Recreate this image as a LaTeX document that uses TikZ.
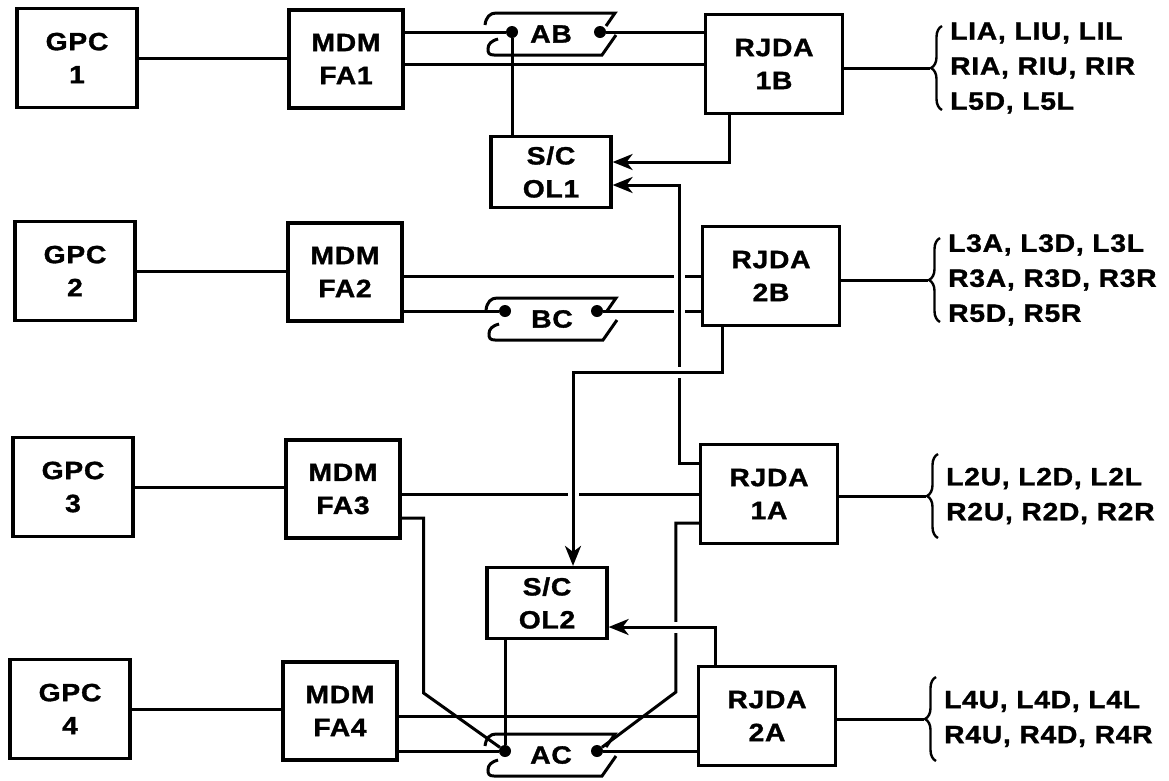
\documentclass[tikz,border=0pt]{standalone}
\usepackage{fontspec}
\newfontfamily\lblfont{Liberation Sans}[FakeStretch=1.13,LetterSpace=3,FakeBold=1.3]
\usetikzlibrary{arrows.meta,calc,decorations.pathreplacing}
\pgfdeclarelayer{fg}
\pgfsetlayers{main,fg}
\newcommand\connshape[1]{%
  \begin{scope}[shift={(#1.center)}, wire]
    \draw (-66,-9) .. controls (-65,-17) and (-61,-21) .. (-55,-21) -- (64,-21) -- (55,-8);
    \draw (-53,5) .. controls (-60,7) and (-63,10) .. (-63,15) .. controls (-63,19) and (-62,21) .. (-57,21) -- (51,21) -- (65,1);
  \end{scope}}
\begin{document}
\begin{tikzpicture}[x=1pt,y=-1pt,
  blk/.style={draw, line width=3.2pt, align=center, inner sep=0pt,
    font=\lblfont\bfseries\fontsize{25}{33}\selectfont},
  gpcbox/.style={blk, minimum width=120pt, minimum height=99pt},
  mdmbox/.style={blk, minimum width=114pt, minimum height=98pt},
  rjdabox/.style={blk, minimum width=137pt, minimum height=99pt},
  scbox/.style={blk, minimum width=120pt, minimum height=71pt},
  connbox/.style={align=center, inner sep=0pt, minimum width=128pt, minimum height=43pt,
    font=\lblfont\bfseries\fontsize{25}{33}\selectfont},
  wire/.style={line width=3pt},
  arr/.style={wire, -{Stealth[length=20pt,width=16pt,inset=6pt]}},
  gapwire/.style={preaction={draw=white, line width=11pt, -}},
  jdot/.style={circle, fill, inner sep=0pt, minimum size=12pt},
  lbl/.style={anchor=west, align=left, inner sep=0pt,
    font=\lblfont\bfseries\fontsize{25}{35}\selectfont},
  brc/.style={line width=2.4pt, decorate, decoration={brace, amplitude=11pt}}]
\useasboundingbox (0,0) rectangle (1169,780);

\begin{pgfonlayer}{fg}
\node[gpcbox] (g1) at (77,58) {GPC\\1};
\node[gpcbox] (g2) at (75,271) {GPC\\2};
\node[gpcbox] (g3) at (73,487) {GPC\\3};
\node[gpcbox] (g4) at (70,709) {GPC\\4};
\node[mdmbox] (m1) at (346,59) {MDM\\FA1};
\node[mdmbox] (m2) at (345,272) {MDM\\FA2};
\node[mdmbox] (m3) at (343,489) {MDM\\FA3};
\node[mdmbox] (m4) at (340,711) {MDM\\FA4};
\node[rjdabox] (r1b) at (774,64) {RJDA\\1B};
\node[rjdabox] (r2b) at (771,276) {RJDA\\2B};
\node[rjdabox] (r1a) at (769,494) {RJDA\\1A};
\node[rjdabox] (r2a) at (767,716) {RJDA\\2A};
\node[scbox] (oc1) at (551,172) {S/C\\OL1};
\node[scbox] (oc2) at (547,603) {S/C\\OL2};
\node[connbox] (ab) at (551,34) {AB};
\node[connbox] (bc) at (552,319) {BC};
\node[connbox] (ac) at (551,755) {AC};
\node[jdot] (abL) at (512,32) {};
\node[jdot] (abR) at (600,32) {};
\node[jdot] (bcL) at (505,311) {};
\node[jdot] (bcR) at (597,311) {};
\node[jdot] (acL) at (505,751) {};
\node[jdot] (acR) at (597,751) {};
\node[lbl] (t1) at (950,68) {LIA, LIU, LIL\\RIA, RIU, RIR\\L5D, L5L};
\node[lbl] (t2) at (948,280) {L3A, L3D, L3L\\R3A, R3D, R3R\\R5D, R5R};
\node[lbl] (t3) at (946,496) {L2U, L2D, L2L\\R2U, R2D, R2R};
\node[lbl] (t4) at (944,719) {L4U, L4D, L4L\\R4U, R4D, R4R};
\end{pgfonlayer}

\connshape{ab}
\connshape{bc}
\connshape{ac}

% GPC to MDM
\draw[wire] (g1.east) -- (g1.east -| m1.west);
\draw[wire] (g2.east) -- (g2.east -| m2.west);
\draw[wire] (g3.east) -- (g3.east -| m3.west);
\draw[wire] (g4.east) -- (g4.east -| m4.west);

% row 1
\draw[wire] (m1.east |- abL) -- (abL);
\draw[wire] (abR) -- (abR -| r1b.west);
\draw[wire] (m1.east |- r1b.west) -- (r1b.west);
\draw[wire] (abL) -- (abL |- oc1.north);
\draw[arr] ($(r1b.south west)+(26,0)$) |- ($(oc1.east)+(0,-10)$);

% row 2
\draw[wire] (m2.east |- r2b.west) -- (r2b.west);
\draw[wire] (m2.east |- bcL) -- (bcL);
\draw[wire] (bcR) -- (bcR -| r2b.west);

% row 3
\draw[wire] (m3.east |- r1a.west) -- (r1a.west);
\draw[wire] ($(m3.east)+(0,29)$) -- ++(22,0) -- ++(0,175) -- (acL);
\draw[wire] ($(r1a.west)+(0,29)$) -- ++(-23,0) -- ++(0,169) -- (acR);

% row 4
\draw[wire] (m4.east |- r2a.west) -- (r2a.west);
\draw[wire] (m4.east |- acL) -- (acL);
\draw[wire] (acR) -- (acR -| r2a.west);
\draw[wire] (oc2.south -| acL) -- (acL);

% crossing connectors
\draw[arr, gapwire] ($(r1a.west)+(0,-31)$) -| ($(oc1.east)+(67,13)$) -- ($(oc1.east)+(0,13)$);
\draw[arr, gapwire] ($(r2b.south west)+(22,0)$) -- ++(0,45) -| ($(oc2.north)+(26,0)$);
\draw[arr, gapwire] ($(r2a.north west)+(19,0)$) |- ($(oc2.east)+(0,24)$);

% outputs with braces
\draw[wire] (r1b.east |- t1.west) -- ($(t1.west)+(-20,0)$);
\draw[wire] (r2b.east |- t2.west) -- ($(t2.west)+(-20,0)$);
\draw[wire] (r1a.east |- t3.west) -- ($(t3.west)+(-20,0)$);
\draw[wire] (r2a.east |- t4.west) -- ($(t4.west)+(-20,0)$);
\draw[brc] ($(t1.west)+(-8,42)$) -- ($(t1.west)+(-8,-42)$);
\draw[brc] ($(t2.west)+(-8,42)$) -- ($(t2.west)+(-8,-42)$);
\draw[brc] ($(t3.west)+(-8,42)$) -- ($(t3.west)+(-8,-42)$);
\draw[brc] ($(t4.west)+(-8,42)$) -- ($(t4.west)+(-8,-42)$);
\end{tikzpicture}
\end{document}
